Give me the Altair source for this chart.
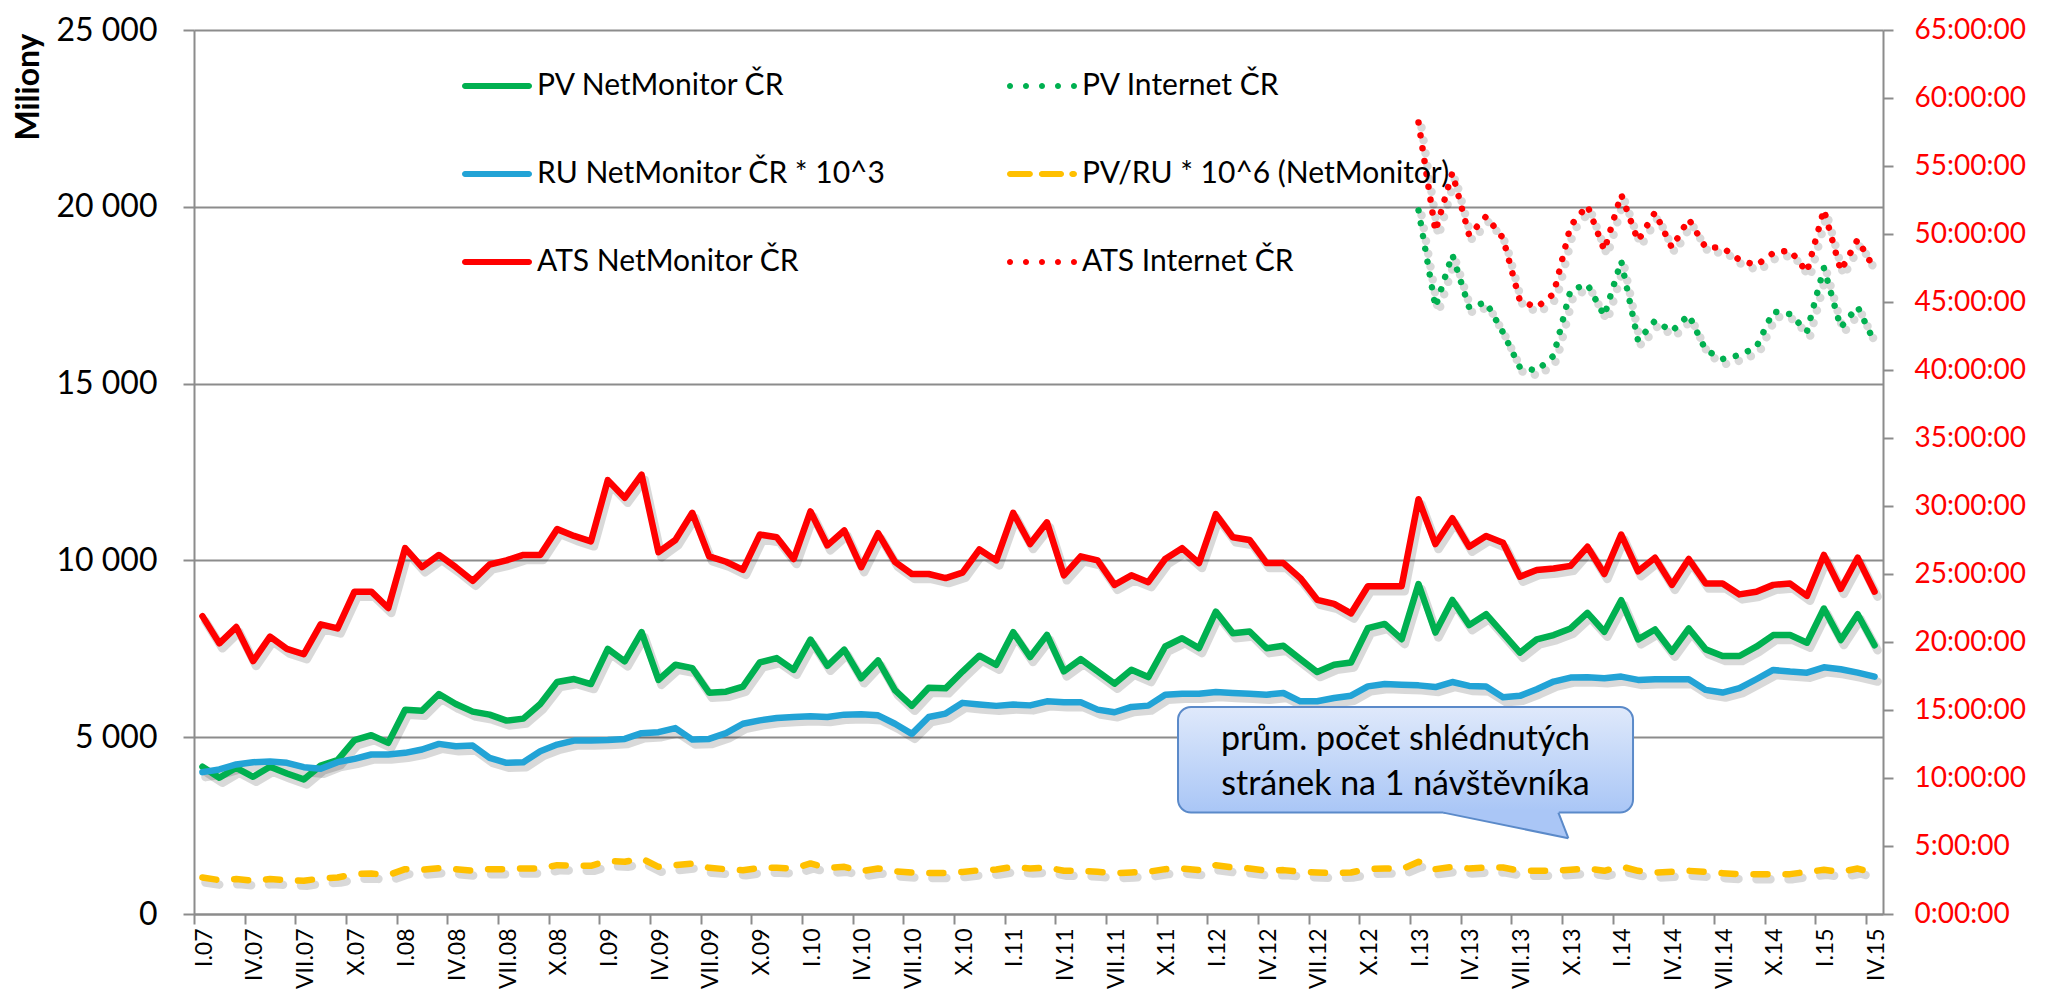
import altair as alt
import pandas as pd

# ---------------- data ----------------
tick_labels = [
    "I.07", "IV.07", "VII.07", "X.07", "I.08", "IV.08", "VII.08", "X.08",
    "I.09", "IV.09", "VII.09", "X.09", "I.10", "IV.10", "VII.10", "X.10",
    "I.11", "IV.11", "VII.11", "X.11", "I.12", "IV.12", "VII.12", "X.12",
    "I.13", "IV.13", "VII.13", "X.13", "I.14", "IV.14", "VII.14", "X.14",
    "I.15", "IV.15",
]

# PV NetMonitor ČR (millions), monthly I.07 .. IV.15
pv_netmonitor = [
    4163, 3853, 4135, 3881, 4163, 3975, 3806, 4200, 4350, 4915, 5056, 4839,
    5779, 5751, 6221, 5939, 5723, 5638, 5469, 5525, 5939, 6559, 6644, 6503,
    7499, 7143, 7971, 6619, 7048, 6952, 6257, 6286, 6429, 7114, 7238, 6905,
    7762, 7019, 7476, 6667, 7171, 6333, 5886, 6400, 6381, 6857, 7305, 7048,
    7971, 7267, 7894, 6861, 7208, 6861, 6513, 6908, 6701, 7565, 7800, 7518,
    8552, 7941, 7988, 7518, 7584, 7208, 6842, 7049, 7114, 8082, 8204, 7772,
    9332, 7960, 8881, 8169, 8479, 7935, 7390, 7766, 7888, 8075, 8517, 7982,
    8874, 7766, 8047, 7418, 8075, 7484, 7296, 7296, 7559, 7888, 7888, 7672,
    8639, 7747, 8479, 7600,
]
# RU NetMonitor ČR * 10^3
ru_netmonitor = [
    4012, 4088, 4229, 4294, 4313, 4276, 4153, 4107, 4294, 4388, 4511, 4511,
    4558, 4652, 4811, 4745, 4764, 4416, 4276, 4294, 4605, 4792, 4905, 4905,
    4920, 4952, 5114, 5143, 5257, 4933, 4952, 5114, 5381, 5476, 5543, 5571,
    5590, 5571, 5638, 5648, 5619, 5381, 5095, 5571, 5667, 5971, 5924, 5886,
    5924, 5900, 6015, 5986, 5986, 5780, 5705, 5855, 5893, 6203, 6231, 6231,
    6278, 6250, 6231, 6203, 6250, 6015, 6015, 6109, 6174, 6438, 6503, 6485,
    6466, 6419, 6560, 6451, 6432, 6132, 6169, 6357, 6573, 6686, 6695, 6667,
    6714, 6620, 6639, 6639, 6639, 6338, 6263, 6385, 6639, 6902, 6855, 6826,
    6977, 6920, 6826, 6714,
]
# PV/RU * 10^6 (NetMonitor)
pv_ru = [
    1033, 958, 987, 940, 987, 958, 940, 1005, 1033, 1128, 1146, 1099,
    1269, 1250, 1297, 1269, 1222, 1269, 1269, 1287, 1287, 1381, 1363, 1363,
    1500, 1476, 1571, 1333, 1381, 1429, 1305, 1267, 1238, 1305, 1305, 1286,
    1429, 1305, 1333, 1210, 1286, 1210, 1171, 1162, 1162, 1190, 1238, 1257,
    1333, 1286, 1316, 1222, 1222, 1194, 1156, 1175, 1194, 1269, 1288, 1241,
    1381, 1316, 1288, 1222, 1241, 1194, 1175, 1156, 1175, 1269, 1288, 1269,
    1475, 1269, 1330, 1286, 1315, 1315, 1221, 1221, 1221, 1249, 1286, 1221,
    1343, 1221, 1174, 1193, 1221, 1193, 1155, 1127, 1127, 1127, 1127, 1193,
    1249, 1193, 1286, 1146,
]
# ATS NetMonitor ČR (hours, right axis)
ats_netmonitor = [
    21.9, 19.9, 21.1, 18.6, 20.4, 19.5, 19.1, 21.3, 21.0, 23.7, 23.7, 22.5,
    26.9, 25.5, 26.4, 25.5, 24.5, 25.7, 26.0, 26.4, 26.4, 28.3, 27.8, 27.4,
    31.9, 30.6, 32.3, 26.6, 27.5, 29.5, 26.3, 25.9, 25.3, 27.9, 27.7, 26.1,
    29.6, 27.1, 28.2, 25.5, 28.0, 25.9, 25.0, 25.0, 24.7, 25.1, 26.8, 26.0,
    29.5, 27.2, 28.8, 24.9, 26.3, 26.0, 24.2, 24.9, 24.4, 26.1, 26.9, 25.8,
    29.4, 27.7, 27.5, 25.8, 25.8, 24.7, 23.1, 22.8, 22.1, 24.1, 24.1, 24.1,
    30.5, 27.2, 29.1, 27.0, 27.8, 27.3, 24.8, 25.3, 25.4, 25.6, 27.0, 25.0,
    27.9, 25.2, 26.2, 24.2, 26.1, 24.3, 24.3, 23.5, 23.7, 24.2, 24.3, 23.4,
    26.4, 23.9, 26.2, 23.7,
]
# Internet ČR series start at I.13 (month index 72)
internet_start = 72
pv_internet = [
    19900, 17162, 18647, 17152, 17303, 16448, 15461, 15367, 15790, 17641,
    17810, 16918, 18468, 16213, 16777, 16476, 16946, 15949, 15696, 15808,
    16025, 17040, 16964, 16476, 18271, 16589, 17171, 16166,
]
ats_internet = [
    58.2, 50.2, 54.5, 49.9, 51.3, 49.7, 45.1, 44.6, 45.6, 50.6,
    52.1, 48.8, 52.9, 49.5, 51.6, 49.0, 51.1, 49.0, 49.0, 48.1,
    47.7, 48.6, 48.8, 47.2, 51.8, 47.3, 49.6, 47.4,
]

# legend entries, listed column by column (left column first)
series_names = [
    "PV NetMonitor ČR", "RU NetMonitor ČR * 10^3", "ATS NetMonitor ČR",
    "PV Internet ČR", "PV/RU * 10^6 (NetMonitor)", "ATS Internet ČR",
]

# annotation callout (in data units: month index / left-axis millions)
callout_lines = ["prům. počet shlédnutých", "stránek na 1 návštěvníka"]
callout_box = dict(x1=57.76, x2=84.7, y1=2867, y2=5855)
callout_text_y = [4925, 3657]
callout_tail = dict(xa=73.47, xb=80.28, xt=80.87, yt=2143)

# ---------------- styling ----------------
FONT = "Lato"
GRAY = "#8c8c8c"
GREEN = "#00B050"
BLUE = "#22A3D6"
YELLOW = "#FFC000"
RED = "#FF0000"
BORDER = "#5B8AC9"

n = len(pv_netmonitor)
idx = list(range(n))
idx_int = list(range(internet_start, internet_start + len(pv_internet)))

label_expr = "[" + ",".join("'" + t + "'" for t in tick_labels) + "][round((datum.value + 0.5) / 3)]"

x_axis = alt.Axis(
    values=[-0.5 + 3 * k for k in range(len(tick_labels))],
    labelExpr=label_expr, labelAngle=-90, labelAlign="right", labelBaseline="middle",
    labelOffset=10, labelPadding=4, labelFont=FONT, labelFontSize=23, labelColor="black",
    labelOverlap=False, labelFlush=False, labelBound=False,
    tickSize=10, tickColor=GRAY, tickWidth=2, domainColor=GRAY, domainWidth=2,
    grid=False, title=None,
)
x_scale = alt.Scale(domain=[-0.5, n - 0.5], nice=False, zero=False)


def X(field):
    return alt.X(f"{field}:Q", scale=x_scale, axis=x_axis)


left_axis = alt.Axis(
    orient="left", values=list(range(0, 25001, 5000)),
    labelExpr="replace(format(datum.value, ','), ',', ' ')",
    labelFont=FONT, labelFontSize=32, labelColor="black", labelPadding=26,
    tickSize=11, tickColor=GRAY, tickWidth=2, domainColor=GRAY, domainWidth=2,
    grid=True, gridColor=GRAY, gridWidth=2,
    title="Miliony", titleFont=FONT, titleFontSize=32, titleFontWeight="bold",
    titleAngle=-90, titleAlign="right", titleBaseline="middle", titleX=-166, titleY=3,
    titleColor="black",
)
right_axis = alt.Axis(
    orient="right", values=list(range(0, 66, 5)),
    labelExpr="datum.value + ':00:00'",
    labelFont=FONT, labelFontSize=28, labelColor=RED, labelPadding=21,
    tickSize=10, tickColor=GRAY, tickWidth=2, domainColor=GRAY, domainWidth=2,
    grid=False, title=None,
)
yl_scale = alt.Scale(domain=[0, 25000], nice=False, zero=True)
yr_scale = alt.Scale(domain=[0, 65], nice=False, zero=True)


def YL(field, axis=None):
    return alt.Y(f"{field}:Q", scale=yl_scale, axis=axis)


def YR(field, axis=None):
    return alt.Y(f"{field}:Q", scale=yr_scale, axis=axis)


def frame(xs, vs):
    return pd.DataFrame({"i": xs, "v": vs})


def line_layer(data, y, color, width, dash=None, shadow=False):
    kw = dict(strokeWidth=width, strokeCap="round", strokeJoin="round")
    if dash is not None:
        kw["strokeDash"] = dash
    if shadow:
        kw.update(color="#000000", opacity=0.15, xOffset=3, yOffset=5, strokeWidth=width + 2)
    else:
        kw.update(color=color)
    return alt.Chart(data).mark_line(**kw).encode(x=X("i"), y=y)


d_pv = frame(idx, pv_netmonitor)
d_ru = frame(idx, ru_netmonitor)
d_pvru = frame(idx, pv_ru)
d_ats = frame(idx, ats_netmonitor)
d_pvi = frame(idx_int, pv_internet)
d_atsi = frame(idx_int, ats_internet)

DOT = [0.01, 13]
DASH = [14, 18]

layers = []
# shadows
layers += [
    line_layer(d_pv, YL("v"), GREEN, 6.5, shadow=True),
    line_layer(d_ru, YL("v"), BLUE, 6.5, shadow=True),
    line_layer(d_pvru, YL("v"), YELLOW, 6.5, DASH, shadow=True),
    line_layer(d_ats, YR("v"), RED, 6.5, shadow=True),
    line_layer(d_pvi, YL("v"), GREEN, 6.5, DOT, shadow=True),
    line_layer(d_atsi, YR("v"), RED, 6.5, DOT, shadow=True),
]
# main lines
layers += [
    line_layer(d_pv, YL("v", left_axis), GREEN, 6.5),
    line_layer(d_ru, YL("v"), BLUE, 6.5),
    line_layer(d_pvru, YL("v"), YELLOW, 6.5, DASH),
    line_layer(d_ats, YR("v", right_axis), RED, 6.5),
    line_layer(d_pvi, YL("v"), GREEN, 6.5, DOT),
    line_layer(d_atsi, YR("v"), RED, 6.5, DOT),
]

# callout
box_df = pd.DataFrame([callout_box])
gradient = alt.LinearGradient(
    gradient="linear", x1=0, y1=0, x2=0, y2=1,
    stops=[alt.GradientStop(color="#DFE9FB", offset=0),
           alt.GradientStop(color="#A9C6F6", offset=1)],
)
layers.append(
    alt.Chart(box_df).mark_rect(cornerRadius=13, color="#000000", opacity=0.18, xOffset=4, yOffset=5)
    .encode(x=X("x1"), x2="x2:Q", y=YL("y2"), y2="y1:Q")
)
layers.append(
    alt.Chart(box_df).mark_rect(cornerRadius=13, fill=gradient, stroke=BORDER, strokeWidth=2)
    .encode(x=X("x1"), x2="x2:Q", y=YL("y2"), y2="y1:Q")
)
t = callout_tail
yb = callout_box["y1"]
y_right_base = yb + (t["yt"] - yb) * (t["xb"] - t["xa"]) / (t["xt"] - t["xa"])
tail_df = pd.DataFrame({
    "x": [t["xa"], t["xb"], t["xt"]],
    "top": [yb + 70, yb + 70, t["yt"]],
    "bot": [yb, y_right_base, t["yt"]],
})
layers.append(
    alt.Chart(tail_df).mark_area(color="#AAC6F6", opacity=1)
    .encode(x=X("x"), y=YL("top"), y2="bot:Q")
)
edge_df = pd.DataFrame({
    "e": ["a", "a", "b", "b"],
    "x": [t["xa"], t["xt"], t["xb"], t["xt"]],
    "y": [yb, t["yt"], yb, t["yt"]],
})
layers.append(
    alt.Chart(edge_df).mark_line(color=BORDER, strokeWidth=2)
    .encode(x=X("x"), y=YL("y"), detail="e:N")
)
text_df = pd.DataFrame({
    "x": [(callout_box["x1"] + callout_box["x2"]) / 2] * 2,
    "y": callout_text_y,
    "t": callout_lines,
})
layers.append(
    alt.Chart(text_df).mark_text(font=FONT, fontSize=34, color="black", align="center", baseline="middle")
    .encode(x=X("x"), y=YL("y"), text="t:N")
)

# legend (carried by an empty point layer with custom symbol shapes)
r = 0.0857


def pill(x0, x1):
    a, b = x0 + r, x1 - r
    return (f"M{a:.3f},{-r:.4f}L{b:.3f},{-r:.4f}A{r},{r} 0 0 1 {b:.3f},{r:.4f}"
            f"L{a:.3f},{r:.4f}A{r},{r} 0 0 1 {a:.3f},{-r:.4f}Z")


def dot(cx):
    return (f"M{cx - r:.3f},0A{r},{r} 0 1 1 {cx + r:.3f},0A{r},{r} 0 1 1 {cx - r:.3f},0Z")


solid_path = pill(-1, 1)
dotted_path = "".join(dot(c) for c in [-0.914, -0.457, 0.0, 0.457, 0.914])
dashed_path = pill(-1, -0.26) + pill(-0.09, 0.63) + pill(0.78, 1.0)

legend = alt.Legend(
    title=None, orient="none", legendX=268, legendY=21, columns=2,
    labelFont=FONT, labelFontSize=30, labelColor="black", labelLimit=900, labelOffset=5,
    symbolSize=4900, symbolStrokeWidth=0, symbolOpacity=1,
    rowPadding=38, columnPadding=121, padding=0,
)
legend_df = pd.DataFrame({"s": series_names})
layers.append(
    alt.Chart(legend_df).mark_point(filled=True, opacity=1)
    .encode(
        color=alt.Color("s:N", scale=alt.Scale(domain=series_names,
                                               range=[GREEN, BLUE, RED, GREEN, YELLOW, RED]),
                        legend=legend),
        shape=alt.Shape("s:N", scale=alt.Scale(domain=series_names,
                                               range=[solid_path, solid_path, solid_path,
                                                      dotted_path, dashed_path, dotted_path]),
                        legend=legend),
    )
    .transform_filter("false")
)

chart = (
    alt.layer(*layers)
    .resolve_scale(y="independent")
    .properties(
        width=1689, height=884,
        autosize=alt.AutoSizeParams(type="none"),
        padding={"left": 186, "top": 22, "right": 150, "bottom": 75},
        background="white",
    )
    .configure_view(stroke=None)
)

chart.save("out.html", embed_options={"renderer": "svg", "actions": False})
